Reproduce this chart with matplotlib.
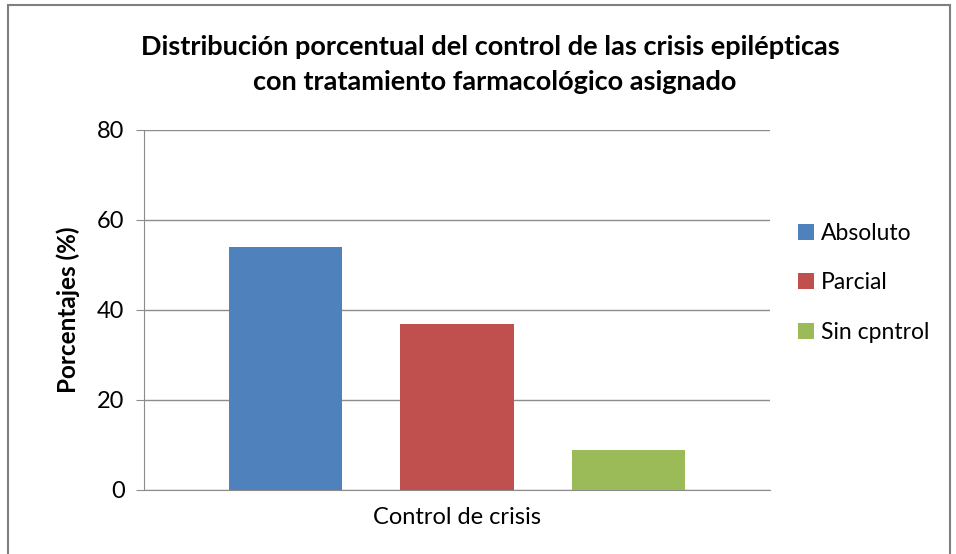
import matplotlib.pyplot as plt
from matplotlib.patches import Rectangle

# Data
categorias = ['Absoluto', 'Parcial', 'Sin cpntrol']
porcentajes = [54.0, 36.8, 8.9]
colores = ['#4F81BD', '#C0504D', '#9BBB59']
yticks = [0, 20, 40, 60, 80]

plt.rcParams['font.family'] = ['Lato', 'DejaVu Sans']

fig = plt.figure(figsize=(9.56, 5.54), dpi=100)
ax = fig.add_axes([144 / 956, 64 / 554, 626 / 956, 360 / 554])

# outer chart frame
fig.patches.append(Rectangle((8 / 956, -0.01), 942 / 956, 1 - 5 / 554 + 0.01,
                             transform=fig.transFigure, fill=False,
                             edgecolor='#7F7F7F', linewidth=1.5))

posiciones = [-1, 0, 1]
for pos, val, col, cat in zip(posiciones, porcentajes, colores, categorias):
    ax.bar(pos, val, width=0.66, color=col, label=cat, zorder=3)

ax.set_xlim(-1.825, 1.825)
ax.set_ylim(0, 80)
ax.set_yticks(yticks)
ax.set_yticklabels([str(t) for t in yticks], fontsize=17)
ax.set_xticks([])
ax.yaxis.grid(True, color='#8C8C8C', linewidth=1.0, zorder=0)
ax.tick_params(axis='y', length=6, color='#8C8C8C', pad=8)

for s in ['top', 'right']:
    ax.spines[s].set_visible(False)
ax.spines['left'].set_color('#8C8C8C')
ax.spines['bottom'].set_color('#8C8C8C')

ax.set_ylabel('Porcentajes (%)', fontsize=17.5, fontweight='bold', labelpad=12)
ax.set_xlabel('Control de crisis', fontsize=17, labelpad=12)

fig.text(490 / 956, 1 - 47 / 554,
         'Distribución porcentual del control de las crisis epilépticas',
         ha='center', va='center', fontsize=19.5, fontweight='bold')
fig.text(495 / 956, 1 - 82 / 554, 'con tratamiento farmacológico asignado',
         ha='center', va='center', fontsize=19.5, fontweight='bold')

ax.legend(loc='center left', bbox_to_anchor=(1.03, 0.575), frameon=False,
          fontsize=16.5, handlelength=0.7, handleheight=0.7, handletextpad=0.3,
          labelspacing=1.25, borderaxespad=0)

fig.savefig('out.png', dpi=100)
